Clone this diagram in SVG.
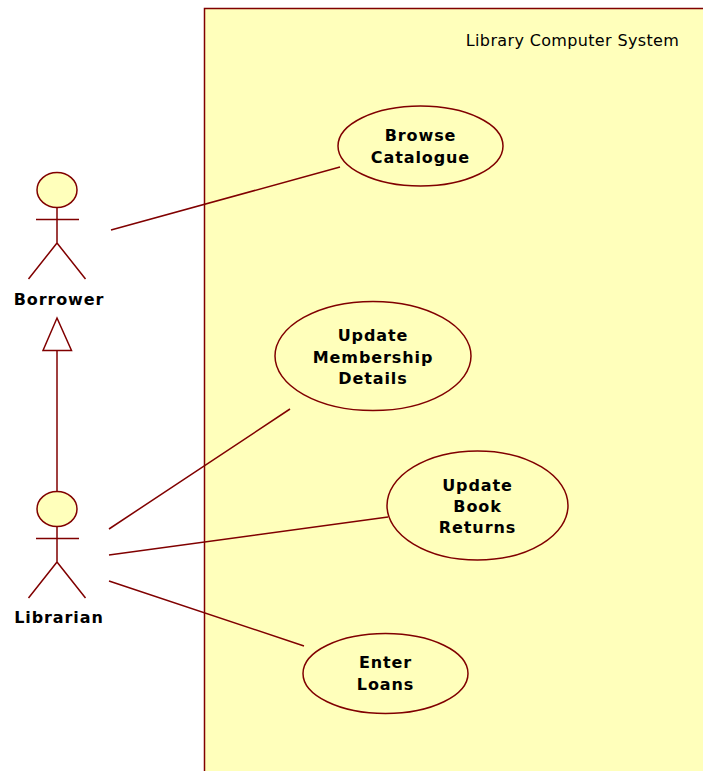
<svg xmlns="http://www.w3.org/2000/svg" width="703" height="771" viewBox="0 0 703 771">
<style>
.l{fill:none;stroke:#800000;stroke-width:1.5}
.n{fill:#ffffbb;stroke:#800000;stroke-width:1.5}
.t{font-family:"DejaVu Sans",sans-serif;font-size:16px;font-weight:bold;letter-spacing:0.9px;fill:#000;text-anchor:middle}
</style>
<rect width="703" height="771" fill="#fff"/>
<g id="system"><rect x="204.500" y="8.500" width="520" height="790" class="n"/><text x="572.500" y="45.500" style="font-family:'DejaVu Sans',sans-serif;font-size:16px;letter-spacing:0.35px;text-anchor:middle">Library Computer System</text></g>
<g id="connectors">
<path class="l" d="M111 230L340 167M109 529L290 409M109 555L388 517M109 581L304 646"/>
<path class="l" d="M57 492V350.500"/>
<path class="l" d="M57 318L71.500 350.500H43Z"/>
</g>
<g id="borrower"><ellipse class="n" cx="57" cy="190" rx="20" ry="17.500"/><path class="l" d="M57 207.500V243M36 219.500H79M57 243L28.500 279M57 243L85.500 279"/><text class="t" x="59" y="305">Borrower</text></g>
<g id="librarian"><ellipse class="n" cx="57" cy="509" rx="20" ry="17.500"/><path class="l" d="M57 526.500V562M36 538.500H79M57 562L28.500 598M57 562L85.500 598"/><text class="t" x="59" y="623">Librarian</text></g>
<g id="browse"><ellipse class="n" cx="420.500" cy="146" rx="82.500" ry="40"/><text class="t" x="420.500" y="141">Browse</text><text class="t" x="420.500" y="163">Catalogue</text></g>
<g id="update-membership"><ellipse class="n" cx="373" cy="356" rx="98" ry="54.500"/><text class="t" x="373" y="341">Update</text><text class="t" x="373" y="363">Membership</text><text class="t" x="373" y="384">Details</text></g>
<g id="update-book"><ellipse class="n" cx="477.500" cy="505.500" rx="90.500" ry="54.500"/><text class="t" x="477.500" y="491">Update</text><text class="t" x="477.500" y="512">Book</text><text class="t" x="477.500" y="533">Returns</text></g>
<g id="enter-loans"><ellipse class="n" cx="385.500" cy="673.500" rx="82.500" ry="40"/><text class="t" x="385.500" y="668">Enter</text><text class="t" x="385.500" y="690">Loans</text></g>
</svg>
